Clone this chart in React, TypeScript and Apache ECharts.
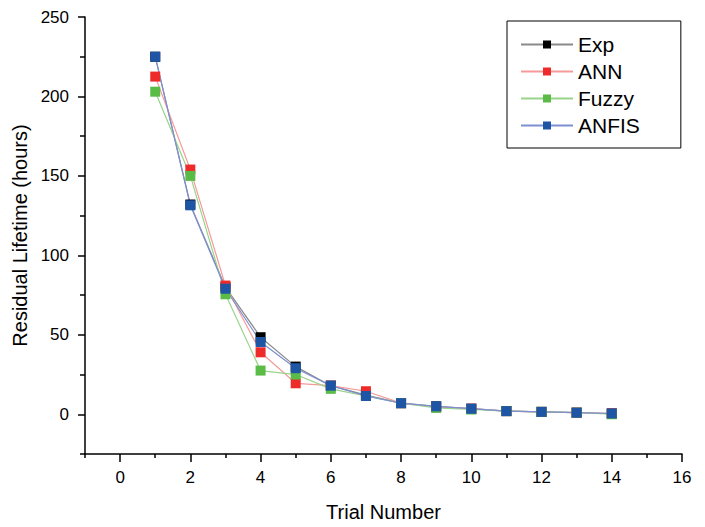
import React, { useEffect, useRef } from "react";
import * as echarts from "echarts";

const trials = [1, 2, 3, 4, 5, 6, 7, 8, 9, 10, 11, 12, 13, 14];
const expValues = [225, 132, 80, 48.5, 30, 18, 12, 7, 5, 3.5, 2, 1.5, 1, 0.5];
const annValues = [212.5, 154, 81, 39, 19.5, 18, 14.5, 7, 4.5, 3.5, 2, 1.5, 1, 0.5];
const fuzzyValues = [203, 150, 75.5, 27.5, 25, 16, 11.5, 7, 4, 3, 2, 1.5, 1, 0];
const anfisValues = [225, 131.5, 79, 45.5, 29, 18, 11.5, 7, 5, 3.5, 2, 1.5, 1, 0.5];

const xMajor = [0, 2, 4, 6, 8, 10, 12, 14, 16];
const xMinor = [-1, 1, 3, 5, 7, 9, 11, 13, 15];
const yMajor = [0, 50, 100, 150, 200, 250];
const yMinor = [-25, 25, 75, 125, 175, 225];

const seriesDefs = [
  { name: "Exp", data: expValues, marker: "#000000", line: "#8a8a8a" },
  { name: "ANN", data: annValues, marker: "#ee2b2b", line: "#f59a9a" },
  { name: "Fuzzy", data: fuzzyValues, marker: "#5bbb47", line: "#98d48a" },
  { name: "ANFIS", data: anfisValues, marker: "#1f55a5", line: "#7d8fd2" },
];

const FONT = "Liberation Sans, Arial, sans-serif";

export default function App() {
  const ref = useRef<HTMLDivElement>(null);
  useEffect(() => {
    if (!ref.current) return;
    const chart = echarts.init(ref.current, null, { renderer: "svg" });
    const axisLine = { show: true, onZero: false, lineStyle: { color: "#000", width: 1.5 } };
    const hiddenLine = { show: false, onZero: false };
    chart.setOption({
      animation: false,
      backgroundColor: "#fff",
      textStyle: { fontFamily: FONT },
      grid: { left: 85, right: 23, top: 17, bottom: 68, containLabel: false },
      legend: {
        orient: "vertical",
        left: 507,
        top: 21,
        padding: [13, 41, 12, 13],
        borderColor: "#000",
        borderWidth: 1,
        itemGap: 6,
        itemWidth: 52,
        itemHeight: 10,
        textStyle: { fontSize: 21, color: "#000", fontFamily: FONT },
        data: seriesDefs.map((s) => s.name),
      },
      xAxis: [
        {
          type: "value",
          min: -1,
          max: 16,
          interval: 1,
          name: "Trial Number",
          nameLocation: "middle",
          nameGap: 48,
          nameTextStyle: { fontSize: 20, color: "#000", fontFamily: FONT },
          axisLine,
          splitLine: { show: false },
          axisTick: { show: true, customValues: xMajor, length: 8, lineStyle: { color: "#000", width: 1.5 } },
          axisLabel: { customValues: xMajor, fontSize: 17, color: "#000", margin: 15, fontFamily: FONT },
        },
        {
          type: "value",
          min: -1,
          max: 16,
          interval: 1,
          position: "bottom",
          axisLine: hiddenLine,
          splitLine: { show: false },
          axisTick: { show: true, customValues: xMinor, length: 4, lineStyle: { color: "#000", width: 1.5 } },
          axisLabel: { show: false },
        },
      ],
      yAxis: [
        {
          type: "value",
          min: -25,
          max: 250,
          interval: 25,
          name: "Residual Lifetime (hours)",
          nameLocation: "middle",
          nameGap: 53,
          nameTextStyle: { fontSize: 20, color: "#000", fontFamily: FONT },
          axisLine,
          splitLine: { show: false },
          axisTick: { show: true, customValues: yMajor, length: 7, lineStyle: { color: "#000", width: 1.5 } },
          axisLabel: { customValues: yMajor, fontSize: 17, color: "#000", margin: 16, fontFamily: FONT },
        },
        {
          type: "value",
          min: -25,
          max: 250,
          interval: 25,
          position: "left",
          axisLine: hiddenLine,
          splitLine: { show: false },
          axisTick: { show: true, customValues: yMinor, length: 5, lineStyle: { color: "#000", width: 1.5 } },
          axisLabel: { show: false },
        },
      ],
      series: seriesDefs.map((s) => ({
        name: s.name,
        type: "line",
        xAxisIndex: 0,
        yAxisIndex: 0,
        data: trials.map((t, i) => [t, s.data[i]]),
        symbol: "rect",
        symbolSize: 10,
        showAllSymbol: true,
        itemStyle: { color: s.marker, borderColor: s.marker, borderWidth: 0 },
        lineStyle: { color: s.line, width: 1.2 },
      })),
    });
    return () => chart.dispose();
  }, []);
  return <div ref={ref} style={{ width: 705, height: 527, position: "absolute", left: 0, top: 0 }} />;
}
